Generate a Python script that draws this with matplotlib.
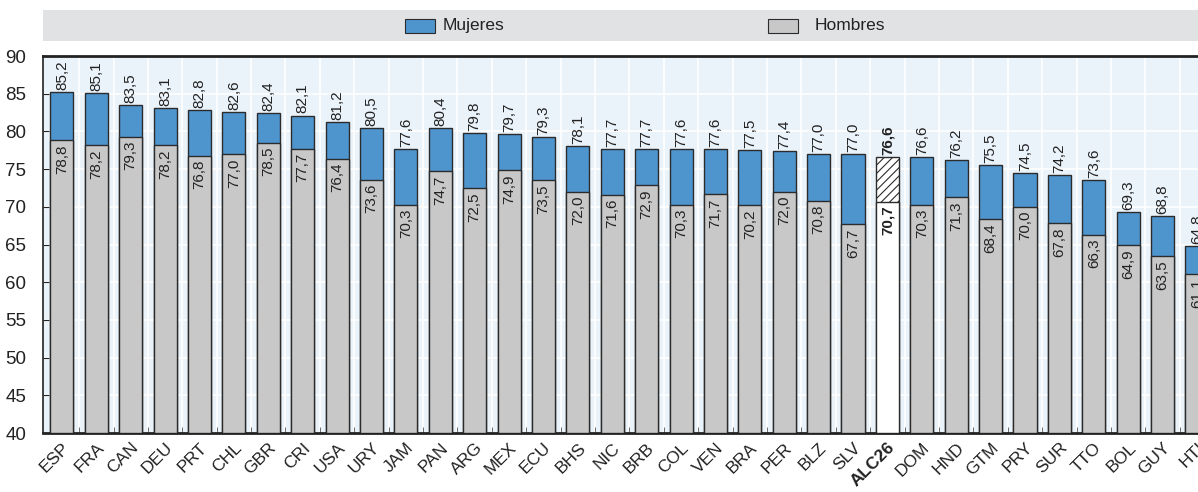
import numpy as np
import matplotlib.pyplot as plt
from matplotlib.patches import Rectangle

plt.rcParams['font.family'] = ['Liberation Sans', 'DejaVu Sans']
plt.rcParams['hatch.linewidth'] = 0.8

# Datos
paises = ['ESP', 'FRA', 'CAN', 'DEU', 'PRT', 'CHL', 'GBR', 'CRI', 'USA', 'URY',
          'JAM', 'PAN', 'ARG', 'MEX', 'ECU', 'BHS', 'NIC', 'BRB', 'COL', 'VEN',
          'BRA', 'PER', 'BLZ', 'SLV', 'ALC26', 'DOM', 'HND', 'GTM', 'PRY', 'SUR',
          'TTO', 'BOL', 'GUY', 'HTI']
mujeres = [85.2, 85.1, 83.5, 83.1, 82.8, 82.6, 82.4, 82.1, 81.2, 80.5,
           77.6, 80.4, 79.8, 79.7, 79.3, 78.1, 77.7, 77.7, 77.6, 77.6,
           77.5, 77.4, 77.0, 77.0, 76.6, 76.6, 76.2, 75.5, 74.5, 74.2,
           73.6, 69.3, 68.8, 64.8]
hombres = [78.8, 78.2, 79.3, 78.2, 76.8, 77.0, 78.5, 77.7, 76.4, 73.6,
           70.3, 74.7, 72.5, 74.9, 73.5, 72.0, 71.6, 72.9, 70.3, 71.7,
           70.2, 72.0, 70.8, 67.7, 70.7, 70.3, 71.3, 68.4, 70.0, 67.8,
           66.3, 64.9, 63.5, 61.1]
destacado = 'ALC26'

azul = '#4E95CE'
gris = '#C8C8C8'
borde = '#2B2B2B'

fig = plt.figure(figsize=(11.98, 4.92), dpi=100)
ax = fig.add_axes([43/1198, 1 - 433/492, 1 - 43/1198, (433 - 56)/492])
ax.set_facecolor('#EAF2FA')

x = np.arange(len(paises))
base = 40
w = 0.67
col_m = [('white' if p == destacado else azul) for p in paises]
col_h = [('white' if p == destacado else gris) for p in paises]
barras_m = ax.bar(x, np.array(mujeres) - base, bottom=base, width=w, color=col_m,
                  edgecolor=borde, linewidth=1.0, zorder=3)
barras_h = ax.bar(x, np.array(hombres) - base, bottom=base, width=w, color=col_h,
                  edgecolor=borde, linewidth=1.0, zorder=4)
i_d = paises.index(destacado)
barras_m[i_d].set_hatch('////')

def fmt(v):
    return f'{v:.1f}'.replace('.', ',')

for i, p in enumerate(paises):
    peso = 'bold' if p == destacado else 'normal'
    ax.annotate(fmt(mujeres[i]), (i, mujeres[i]), xytext=(0, 1.5), textcoords='offset points',
                rotation=90, ha='center', va='bottom', fontsize=11, fontweight=peso,
                color='#222222', zorder=6, annotation_clip=False)
    ax.annotate(fmt(hombres[i]), (i, hombres[i]), xytext=(0, -3), textcoords='offset points',
                rotation=90, ha='center', va='top', fontsize=11, fontweight=peso,
                color='#222222', zorder=6)

ax.set_ylim(40, 90)
ax.set_xlim(-0.55, len(paises) - 1 + 0.03)
ax.set_yticks(np.arange(40, 91, 5))
ax.tick_params(axis='y', direction='in', length=4, labelsize=13.5, colors='#222222', pad=12)
ax.set_xticks(x)
ax.set_xticklabels(paises, rotation=45, ha='right', va='top', rotation_mode='anchor',
                   fontsize=12.5, color='#222222')
ax.tick_params(axis='x', which='major', length=0, pad=5)
ax.set_xticks(x[:-1] + 0.5, minor=True)
ax.tick_params(axis='x', which='minor', direction='in', length=4, color='#555555')
for lbl in ax.get_xticklabels():
    if lbl.get_text() == destacado:
        lbl.set_fontweight('bold')

for v in np.arange(45, 90, 5):
    ax.axhline(v, color='white', lw=1.2, zorder=1)
for v in x[:-1] + 0.5:
    ax.axvline(v, color='white', lw=1.2, zorder=1)

for s in ['top', 'bottom', 'left']:
    ax.spines[s].set_color('#222222')
ax.spines['top'].set_linewidth(2)
ax.spines['bottom'].set_linewidth(2)
ax.spines['left'].set_linewidth(1.2)
ax.spines['right'].set_visible(False)

# Banda de leyenda
fig.patches.append(Rectangle((43/1198, 1 - 41/492), 1 - 43/1198, 31/492,
                             transform=fig.transFigure, facecolor='#E1E2E4',
                             edgecolor='none', zorder=0))
fig.patches.append(Rectangle((405/1198, 1 - 33/492), 30/1198, 14/492,
                             transform=fig.transFigure, facecolor=azul,
                             edgecolor=borde, linewidth=0.8))
fig.text(443/1198, 1 - 25.5/492, 'Mujeres', fontsize=12.5, va='center', ha='left', color='#222222')
fig.patches.append(Rectangle((768/1198, 1 - 33/492), 30/1198, 14/492,
                             transform=fig.transFigure, facecolor=gris,
                             edgecolor=borde, linewidth=0.8))
fig.text(815/1198, 1 - 25.5/492, 'Hombres', fontsize=12.5, va='center', ha='left', color='#222222')

fig.savefig('out.png', dpi=100)
